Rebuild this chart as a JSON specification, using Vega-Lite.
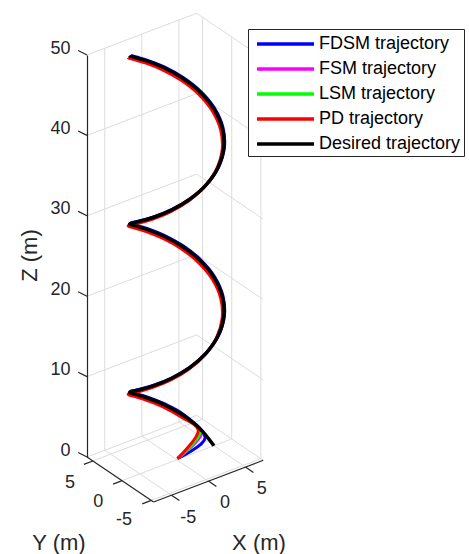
{
  "$schema": "https://vega.github.io/schema/vega-lite/v6.json",
  "width": 382,
  "height": 402,
  "autosize": {"type": "none"},
  "padding": {"left": 87, "top": 55, "right": 0, "bottom": 97},
  "background": "white",
  "config": {"view": {"stroke": null}},
  "datasets": {
    "grid": [
      {"u": 2.21, "v": 0.85, "u2": 2.21, "v2": 50.85},
      {"u": 6.82, "v": 2.6, "u2": 6.82, "v2": 52.6},
      {"u": 11.43, "v": 4.35, "u2": 11.43, "v2": 54.35},
      {"u": 0, "v": 0, "u2": 13.64, "v2": 5.19},
      {"u": 0, "v": 10, "u2": 13.64, "v2": 15.19},
      {"u": 0, "v": 20, "u2": 13.64, "v2": 25.19},
      {"u": 0, "v": 30, "u2": 13.64, "v2": 35.19},
      {"u": 0, "v": 40, "u2": 13.64, "v2": 45.19},
      {"u": 0, "v": 50, "u2": 13.64, "v2": 55.19},
      {"u": 14.37, "v": 4.7, "u2": 14.37, "v2": 54.7},
      {"u": 18.0, "v": 2.25, "u2": 18.0, "v2": 52.25},
      {"u": 21.63, "v": -0.21, "u2": 21.63, "v2": 49.79},
      {"u": 13.64, "v": 5.19, "u2": 21.92, "v2": -0.41},
      {"u": 13.64, "v": 15.19, "u2": 21.92, "v2": 9.59},
      {"u": 13.64, "v": 25.19, "u2": 21.92, "v2": 19.59},
      {"u": 13.64, "v": 35.19, "u2": 21.92, "v2": 29.59},
      {"u": 13.64, "v": 45.19, "u2": 21.92, "v2": 39.59},
      {"u": 13.64, "v": 55.19, "u2": 21.92, "v2": 49.59},
      {"u": 10.5, "v": -4.75, "u2": 2.21, "v2": 0.85},
      {"u": 15.1, "v": -3.0, "u2": 6.82, "v2": 2.6},
      {"u": 19.71, "v": -1.25, "u2": 11.43, "v2": 4.35},
      {"u": 0.73, "v": -0.49, "u2": 14.37, "v2": 4.7},
      {"u": 4.36, "v": -2.94, "u2": 18.0, "v2": 2.25},
      {"u": 7.99, "v": -5.4, "u2": 21.63, "v2": -0.21}
    ],
    "axes": [
      {"u": 0, "v": 0, "u2": 8.28, "v2": -5.59},
      {"u": 8.28, "v": -5.59, "u2": 21.92, "v2": -0.41},
      {"u": 0, "v": 0, "u2": -1.1, "v2": 0.55},
      {"u": 0, "v": 10, "u2": -1.1, "v2": 10.55},
      {"u": 0, "v": 20, "u2": -1.1, "v2": 20.55},
      {"u": 0, "v": 30, "u2": -1.1, "v2": 30.55},
      {"u": 0, "v": 40, "u2": -1.1, "v2": 40.55},
      {"u": 0, "v": 50, "u2": -1.1, "v2": 50.55},
      {"u": 0.73, "v": -0.49, "u2": -0.39, "v2": -0.92},
      {"u": 4.36, "v": -2.94, "u2": 3.24, "v2": -3.37},
      {"u": 7.99, "v": -5.4, "u2": 6.87, "v2": -5.83},
      {"u": 10.5, "v": -4.75, "u2": 11.49, "v2": -5.42},
      {"u": 15.1, "v": -3.0, "u2": 16.09, "v2": -3.67},
      {"u": 19.71, "v": -1.25, "u2": 20.7, "v2": -1.92}
    ],
    "ticklabels": [
      {"u": -2.11, "v": -3.27, "t": "5"},
      {"u": 1.41, "v": -5.56, "t": "0"},
      {"u": 4.6, "v": -7.84, "t": "-5"},
      {"u": 12.6, "v": -7.62, "t": "-5"},
      {"u": 17.16, "v": -5.76, "t": "0"},
      {"u": 21.73, "v": -4.02, "t": "5"}
    ],
    "titles": [
      {"u": -3.48, "v": -10.7, "t": "Y (m)"},
      {"u": 21.39, "v": -10.7, "t": "X (m)"}
    ],
    "desired": [
      {"series": "Desired trajectory", "u": 15.79, "v": 1.4},
      {"series": "Desired trajectory", "u": 14.05, "v": 3.52},
      {"series": "Desired trajectory", "u": 11.87, "v": 5.25},
      {"series": "Desired trajectory", "u": 9.59, "v": 6.52},
      {"series": "Desired trajectory", "u": 7.55, "v": 7.34},
      {"series": "Desired trajectory", "u": 6.06, "v": 7.79},
      {"series": "Desired trajectory", "u": 5.35, "v": 8.0},
      {"series": "Desired trajectory", "u": 5.33, "v": 8.07},
      {"series": "Desired trajectory", "u": 5.53, "v": 8.14},
      {"series": "Desired trajectory", "u": 6.57, "v": 8.37},
      {"series": "Desired trajectory", "u": 8.31, "v": 8.88},
      {"series": "Desired trajectory", "u": 10.49, "v": 9.77},
      {"series": "Desired trajectory", "u": 12.77, "v": 11.11},
      {"series": "Desired trajectory", "u": 14.81, "v": 12.91},
      {"series": "Desired trajectory", "u": 16.3, "v": 15.07},
      {"series": "Desired trajectory", "u": 17.01, "v": 17.48},
      {"series": "Desired trajectory", "u": 16.83, "v": 19.97},
      {"series": "Desired trajectory", "u": 15.79, "v": 22.35},
      {"series": "Desired trajectory", "u": 14.05, "v": 24.46},
      {"series": "Desired trajectory", "u": 11.87, "v": 26.19},
      {"series": "Desired trajectory", "u": 9.59, "v": 27.46},
      {"series": "Desired trajectory", "u": 7.55, "v": 28.29},
      {"series": "Desired trajectory", "u": 6.06, "v": 28.74},
      {"series": "Desired trajectory", "u": 5.35, "v": 28.95},
      {"series": "Desired trajectory", "u": 5.33, "v": 29.01},
      {"series": "Desired trajectory", "u": 5.53, "v": 29.08},
      {"series": "Desired trajectory", "u": 6.57, "v": 29.32},
      {"series": "Desired trajectory", "u": 8.31, "v": 29.82},
      {"series": "Desired trajectory", "u": 10.49, "v": 30.71},
      {"series": "Desired trajectory", "u": 12.77, "v": 32.06},
      {"series": "Desired trajectory", "u": 14.81, "v": 33.85},
      {"series": "Desired trajectory", "u": 16.3, "v": 36.02},
      {"series": "Desired trajectory", "u": 17.01, "v": 38.43},
      {"series": "Desired trajectory", "u": 16.83, "v": 40.91},
      {"series": "Desired trajectory", "u": 15.79, "v": 43.29},
      {"series": "Desired trajectory", "u": 14.05, "v": 45.41},
      {"series": "Desired trajectory", "u": 11.87, "v": 47.13},
      {"series": "Desired trajectory", "u": 9.59, "v": 48.41},
      {"series": "Desired trajectory", "u": 7.55, "v": 49.23},
      {"series": "Desired trajectory", "u": 6.06, "v": 49.68},
      {"series": "Desired trajectory", "u": 5.35, "v": 49.89},
      {"series": "Desired trajectory", "u": 5.32, "v": 49.92}
    ],
    "actual": [
      {"series": "FDSM trajectory", "u": 11.25, "v": -0.2},
      {"series": "FDSM trajectory", "u": 14.68, "v": 2.33},
      {"series": "FDSM trajectory", "u": 11.95, "v": 5.33},
      {"series": "FDSM trajectory", "u": 9.67, "v": 6.6},
      {"series": "FDSM trajectory", "u": 7.63, "v": 7.42},
      {"series": "FDSM trajectory", "u": 6.14, "v": 7.87},
      {"series": "FDSM trajectory", "u": 5.43, "v": 8.08},
      {"series": "FDSM trajectory", "u": 5.41, "v": 8.15},
      {"series": "FDSM trajectory", "u": 5.61, "v": 8.22},
      {"series": "FDSM trajectory", "u": 6.65, "v": 8.45},
      {"series": "FDSM trajectory", "u": 8.39, "v": 8.96},
      {"series": "FDSM trajectory", "u": 10.57, "v": 9.85},
      {"series": "FDSM trajectory", "u": 12.85, "v": 11.19},
      {"series": "FDSM trajectory", "u": 14.89, "v": 12.99},
      {"series": "FDSM trajectory", "u": 16.38, "v": 15.15},
      {"series": "FDSM trajectory", "u": 17.09, "v": 17.56},
      {"series": "FDSM trajectory", "u": 16.91, "v": 20.05},
      {"series": "FDSM trajectory", "u": 15.87, "v": 22.43},
      {"series": "FDSM trajectory", "u": 14.13, "v": 24.54},
      {"series": "FDSM trajectory", "u": 11.95, "v": 26.27},
      {"series": "FDSM trajectory", "u": 9.67, "v": 27.54},
      {"series": "FDSM trajectory", "u": 7.63, "v": 28.37},
      {"series": "FDSM trajectory", "u": 6.14, "v": 28.82},
      {"series": "FDSM trajectory", "u": 5.43, "v": 29.03},
      {"series": "FDSM trajectory", "u": 5.41, "v": 29.09},
      {"series": "FDSM trajectory", "u": 5.61, "v": 29.16},
      {"series": "FDSM trajectory", "u": 6.65, "v": 29.4},
      {"series": "FDSM trajectory", "u": 8.39, "v": 29.9},
      {"series": "FDSM trajectory", "u": 10.57, "v": 30.79},
      {"series": "FDSM trajectory", "u": 12.85, "v": 32.14},
      {"series": "FDSM trajectory", "u": 14.89, "v": 33.93},
      {"series": "FDSM trajectory", "u": 16.38, "v": 36.1},
      {"series": "FDSM trajectory", "u": 17.09, "v": 38.51},
      {"series": "FDSM trajectory", "u": 16.91, "v": 40.99},
      {"series": "FDSM trajectory", "u": 15.87, "v": 43.37},
      {"series": "FDSM trajectory", "u": 14.13, "v": 45.49},
      {"series": "FDSM trajectory", "u": 11.95, "v": 47.21},
      {"series": "FDSM trajectory", "u": 9.67, "v": 48.49},
      {"series": "FDSM trajectory", "u": 7.63, "v": 49.31},
      {"series": "FDSM trajectory", "u": 6.14, "v": 49.76},
      {"series": "FDSM trajectory", "u": 5.43, "v": 49.97},
      {"series": "FDSM trajectory", "u": 5.4, "v": 50.0},
      {"series": "FSM trajectory", "u": 11.25, "v": -0.2},
      {"series": "FSM trajectory", "u": 14.24, "v": 2.99},
      {"series": "FSM trajectory", "u": 11.83, "v": 5.17},
      {"series": "FSM trajectory", "u": 9.55, "v": 6.44},
      {"series": "FSM trajectory", "u": 7.51, "v": 7.26},
      {"series": "FSM trajectory", "u": 6.02, "v": 7.71},
      {"series": "FSM trajectory", "u": 5.31, "v": 7.92},
      {"series": "FSM trajectory", "u": 5.29, "v": 7.99},
      {"series": "FSM trajectory", "u": 5.49, "v": 8.06},
      {"series": "FSM trajectory", "u": 6.53, "v": 8.29},
      {"series": "FSM trajectory", "u": 8.27, "v": 8.8},
      {"series": "FSM trajectory", "u": 10.45, "v": 9.69},
      {"series": "FSM trajectory", "u": 12.73, "v": 11.03},
      {"series": "FSM trajectory", "u": 14.77, "v": 12.83},
      {"series": "FSM trajectory", "u": 16.26, "v": 14.99},
      {"series": "FSM trajectory", "u": 16.97, "v": 17.4},
      {"series": "FSM trajectory", "u": 16.79, "v": 19.89},
      {"series": "FSM trajectory", "u": 15.75, "v": 22.27},
      {"series": "FSM trajectory", "u": 14.01, "v": 24.38},
      {"series": "FSM trajectory", "u": 11.83, "v": 26.11},
      {"series": "FSM trajectory", "u": 9.55, "v": 27.38},
      {"series": "FSM trajectory", "u": 7.51, "v": 28.21},
      {"series": "FSM trajectory", "u": 6.02, "v": 28.66},
      {"series": "FSM trajectory", "u": 5.31, "v": 28.87},
      {"series": "FSM trajectory", "u": 5.29, "v": 28.93},
      {"series": "FSM trajectory", "u": 5.49, "v": 29.0},
      {"series": "FSM trajectory", "u": 6.53, "v": 29.24},
      {"series": "FSM trajectory", "u": 8.27, "v": 29.74},
      {"series": "FSM trajectory", "u": 10.45, "v": 30.63},
      {"series": "FSM trajectory", "u": 12.73, "v": 31.98},
      {"series": "FSM trajectory", "u": 14.77, "v": 33.77},
      {"series": "FSM trajectory", "u": 16.26, "v": 35.94},
      {"series": "FSM trajectory", "u": 16.97, "v": 38.35},
      {"series": "FSM trajectory", "u": 16.79, "v": 40.83},
      {"series": "FSM trajectory", "u": 15.75, "v": 43.21},
      {"series": "FSM trajectory", "u": 14.01, "v": 45.33},
      {"series": "FSM trajectory", "u": 11.83, "v": 47.05},
      {"series": "FSM trajectory", "u": 9.55, "v": 48.33},
      {"series": "FSM trajectory", "u": 7.51, "v": 49.15},
      {"series": "FSM trajectory", "u": 6.02, "v": 49.6},
      {"series": "FSM trajectory", "u": 5.31, "v": 49.81},
      {"series": "FSM trajectory", "u": 5.28, "v": 49.84},
      {"series": "LSM trajectory", "u": 11.25, "v": -0.2},
      {"series": "LSM trajectory", "u": 14.05, "v": 3.11},
      {"series": "LSM trajectory", "u": 11.77, "v": 5.13},
      {"series": "LSM trajectory", "u": 9.49, "v": 6.4},
      {"series": "LSM trajectory", "u": 7.45, "v": 7.22},
      {"series": "LSM trajectory", "u": 5.96, "v": 7.67},
      {"series": "LSM trajectory", "u": 5.25, "v": 7.88},
      {"series": "LSM trajectory", "u": 5.23, "v": 7.95},
      {"series": "LSM trajectory", "u": 5.43, "v": 8.02},
      {"series": "LSM trajectory", "u": 6.47, "v": 8.25},
      {"series": "LSM trajectory", "u": 8.21, "v": 8.76},
      {"series": "LSM trajectory", "u": 10.39, "v": 9.65},
      {"series": "LSM trajectory", "u": 12.67, "v": 10.99},
      {"series": "LSM trajectory", "u": 14.71, "v": 12.79},
      {"series": "LSM trajectory", "u": 16.2, "v": 14.95},
      {"series": "LSM trajectory", "u": 16.91, "v": 17.36},
      {"series": "LSM trajectory", "u": 16.73, "v": 19.85},
      {"series": "LSM trajectory", "u": 15.69, "v": 22.23},
      {"series": "LSM trajectory", "u": 13.95, "v": 24.34},
      {"series": "LSM trajectory", "u": 11.77, "v": 26.07},
      {"series": "LSM trajectory", "u": 9.49, "v": 27.34},
      {"series": "LSM trajectory", "u": 7.45, "v": 28.17},
      {"series": "LSM trajectory", "u": 5.96, "v": 28.62},
      {"series": "LSM trajectory", "u": 5.25, "v": 28.83},
      {"series": "LSM trajectory", "u": 5.23, "v": 28.89},
      {"series": "LSM trajectory", "u": 5.43, "v": 28.96},
      {"series": "LSM trajectory", "u": 6.47, "v": 29.2},
      {"series": "LSM trajectory", "u": 8.21, "v": 29.7},
      {"series": "LSM trajectory", "u": 10.39, "v": 30.59},
      {"series": "LSM trajectory", "u": 12.67, "v": 31.94},
      {"series": "LSM trajectory", "u": 14.71, "v": 33.73},
      {"series": "LSM trajectory", "u": 16.2, "v": 35.9},
      {"series": "LSM trajectory", "u": 16.91, "v": 38.31},
      {"series": "LSM trajectory", "u": 16.73, "v": 40.79},
      {"series": "LSM trajectory", "u": 15.69, "v": 43.17},
      {"series": "LSM trajectory", "u": 13.95, "v": 45.3},
      {"series": "LSM trajectory", "u": 11.77, "v": 47.01},
      {"series": "LSM trajectory", "u": 9.49, "v": 48.29},
      {"series": "LSM trajectory", "u": 7.45, "v": 49.11},
      {"series": "LSM trajectory", "u": 5.96, "v": 49.56},
      {"series": "LSM trajectory", "u": 5.25, "v": 49.77},
      {"series": "LSM trajectory", "u": 5.22, "v": 49.8},
      {"series": "PD trajectory", "u": 11.25, "v": -0.2},
      {"series": "PD trajectory", "u": 13.84, "v": 3.36},
      {"series": "PD trajectory", "u": 11.67, "v": 5.0},
      {"series": "PD trajectory", "u": 9.39, "v": 6.27},
      {"series": "PD trajectory", "u": 7.35, "v": 7.09},
      {"series": "PD trajectory", "u": 5.86, "v": 7.54},
      {"series": "PD trajectory", "u": 5.15, "v": 7.75},
      {"series": "PD trajectory", "u": 5.13, "v": 7.82},
      {"series": "PD trajectory", "u": 5.33, "v": 7.89},
      {"series": "PD trajectory", "u": 6.37, "v": 8.12},
      {"series": "PD trajectory", "u": 8.11, "v": 8.63},
      {"series": "PD trajectory", "u": 10.29, "v": 9.52},
      {"series": "PD trajectory", "u": 12.57, "v": 10.86},
      {"series": "PD trajectory", "u": 14.61, "v": 12.66},
      {"series": "PD trajectory", "u": 16.1, "v": 14.82},
      {"series": "PD trajectory", "u": 16.81, "v": 17.23},
      {"series": "PD trajectory", "u": 16.63, "v": 19.72},
      {"series": "PD trajectory", "u": 15.59, "v": 22.1},
      {"series": "PD trajectory", "u": 13.85, "v": 24.21},
      {"series": "PD trajectory", "u": 11.67, "v": 25.94},
      {"series": "PD trajectory", "u": 9.39, "v": 27.21},
      {"series": "PD trajectory", "u": 7.35, "v": 28.04},
      {"series": "PD trajectory", "u": 5.86, "v": 28.49},
      {"series": "PD trajectory", "u": 5.15, "v": 28.7},
      {"series": "PD trajectory", "u": 5.13, "v": 28.76},
      {"series": "PD trajectory", "u": 5.33, "v": 28.83},
      {"series": "PD trajectory", "u": 6.37, "v": 29.07},
      {"series": "PD trajectory", "u": 8.11, "v": 29.57},
      {"series": "PD trajectory", "u": 10.29, "v": 30.46},
      {"series": "PD trajectory", "u": 12.57, "v": 31.81},
      {"series": "PD trajectory", "u": 14.61, "v": 33.6},
      {"series": "PD trajectory", "u": 16.1, "v": 35.77},
      {"series": "PD trajectory", "u": 16.81, "v": 38.18},
      {"series": "PD trajectory", "u": 16.63, "v": 40.66},
      {"series": "PD trajectory", "u": 15.59, "v": 43.04},
      {"series": "PD trajectory", "u": 13.85, "v": 45.16},
      {"series": "PD trajectory", "u": 11.67, "v": 46.88},
      {"series": "PD trajectory", "u": 9.39, "v": 48.16},
      {"series": "PD trajectory", "u": 7.35, "v": 48.98},
      {"series": "PD trajectory", "u": 5.86, "v": 49.43},
      {"series": "PD trajectory", "u": 5.15, "v": 49.64},
      {"series": "PD trajectory", "u": 5.12, "v": 49.67}
    ]
  },
  "encoding": {
    "x": {"field": "u", "type": "quantitative", "scale": {"domain": [0, 47.51], "nice": false, "zero": false}, "axis": null},
    "y": {
      "field": "v", "type": "quantitative",
      "scale": {"domain": [0, 50], "nice": false, "zero": false},
      "axis": {
        "values": [0, 10, 20, 30, 40, 50],
        "title": "Z (m)",
        "grid": false,
        "domain": true,
        "domainColor": "#262626",
        "domainWidth": 1.2,
        "ticks": false,
        "tickSize": 0,
        "labelFont": "Liberation Sans",
        "labelFontSize": 18,
        "labelColor": "#262626",
        "labelPadding": 17,
        "labelOffset": -7,
        "titleFont": "Liberation Sans",
        "titleFontSize": 22,
        "titleFontWeight": "normal",
        "titleColor": "#262626",
        "titleX": -58,
        "titleY": 200,
        "titleAngle": 270,
        "titleAlign": "center",
        "titleBaseline": "middle",
        "zindex": 1
      }
    }
  },
  "layer": [
    {
      "data": {"name": "grid"},
      "mark": {"type": "rule", "color": "#dcdcdc", "strokeWidth": 1},
      "encoding": {"x2": {"field": "u2"}, "y2": {"field": "v2"}}
    },
    {
      "data": {"name": "axes"},
      "mark": {"type": "rule", "color": "#262626", "strokeWidth": 1.2},
      "encoding": {"x2": {"field": "u2"}, "y2": {"field": "v2"}}
    },
    {
      "data": {"name": "actual"},
      "mark": {"type": "line", "strokeWidth": 3, "interpolate": "catmull-rom"},
      "encoding": {
        "color": {
          "field": "series", "type": "nominal",
          "scale": {
            "domain": ["FDSM trajectory", "FSM trajectory", "LSM trajectory", "PD trajectory", "Desired trajectory"],
            "range": ["#0000ff", "#ff00ff", "#00ff00", "#ff0000", "#000000"]
          },
          "legend": {
            "title": null,
            "orient": "none",
            "legendX": 161,
            "legendY": -26,
            "direction": "vertical",
            "padding": 3,
            "symbolOffset": 4,
            "strokeColor": "#262626",
            "fillColor": "white",
            "symbolType": "M-1,0H4.7",
            "symbolSize": 400,
            "symbolStrokeWidth": 3.5,
            "labelFont": "Liberation Sans",
            "labelFontSize": 18,
            "labelColor": "#000000",
            "labelOffset": 40,
            "labelLimit": 300,
            "rowPadding": 4
          }
        },
        "order": {"value": null}
      }
    },
    {
      "data": {"name": "desired"},
      "mark": {"type": "line", "strokeWidth": 3.5, "interpolate": "catmull-rom"},
      "encoding": {
        "color": {
          "field": "series", "type": "nominal",
          "scale": {
            "domain": ["FDSM trajectory", "FSM trajectory", "LSM trajectory", "PD trajectory", "Desired trajectory"],
            "range": ["#0000ff", "#ff00ff", "#00ff00", "#ff0000", "#000000"]
          }
        },
        "order": {"value": null}
      }
    },
    {
      "data": {"name": "ticklabels"},
      "mark": {"type": "text", "font": "Liberation Sans", "fontSize": 18, "color": "#262626", "align": "center", "baseline": "middle"},
      "encoding": {"text": {"field": "t", "type": "nominal"}}
    },
    {
      "data": {"name": "titles"},
      "mark": {"type": "text", "font": "Liberation Sans", "fontSize": 22, "color": "#262626", "align": "center", "baseline": "middle"},
      "encoding": {"text": {"field": "t", "type": "nominal"}}
    }
  ]
}
